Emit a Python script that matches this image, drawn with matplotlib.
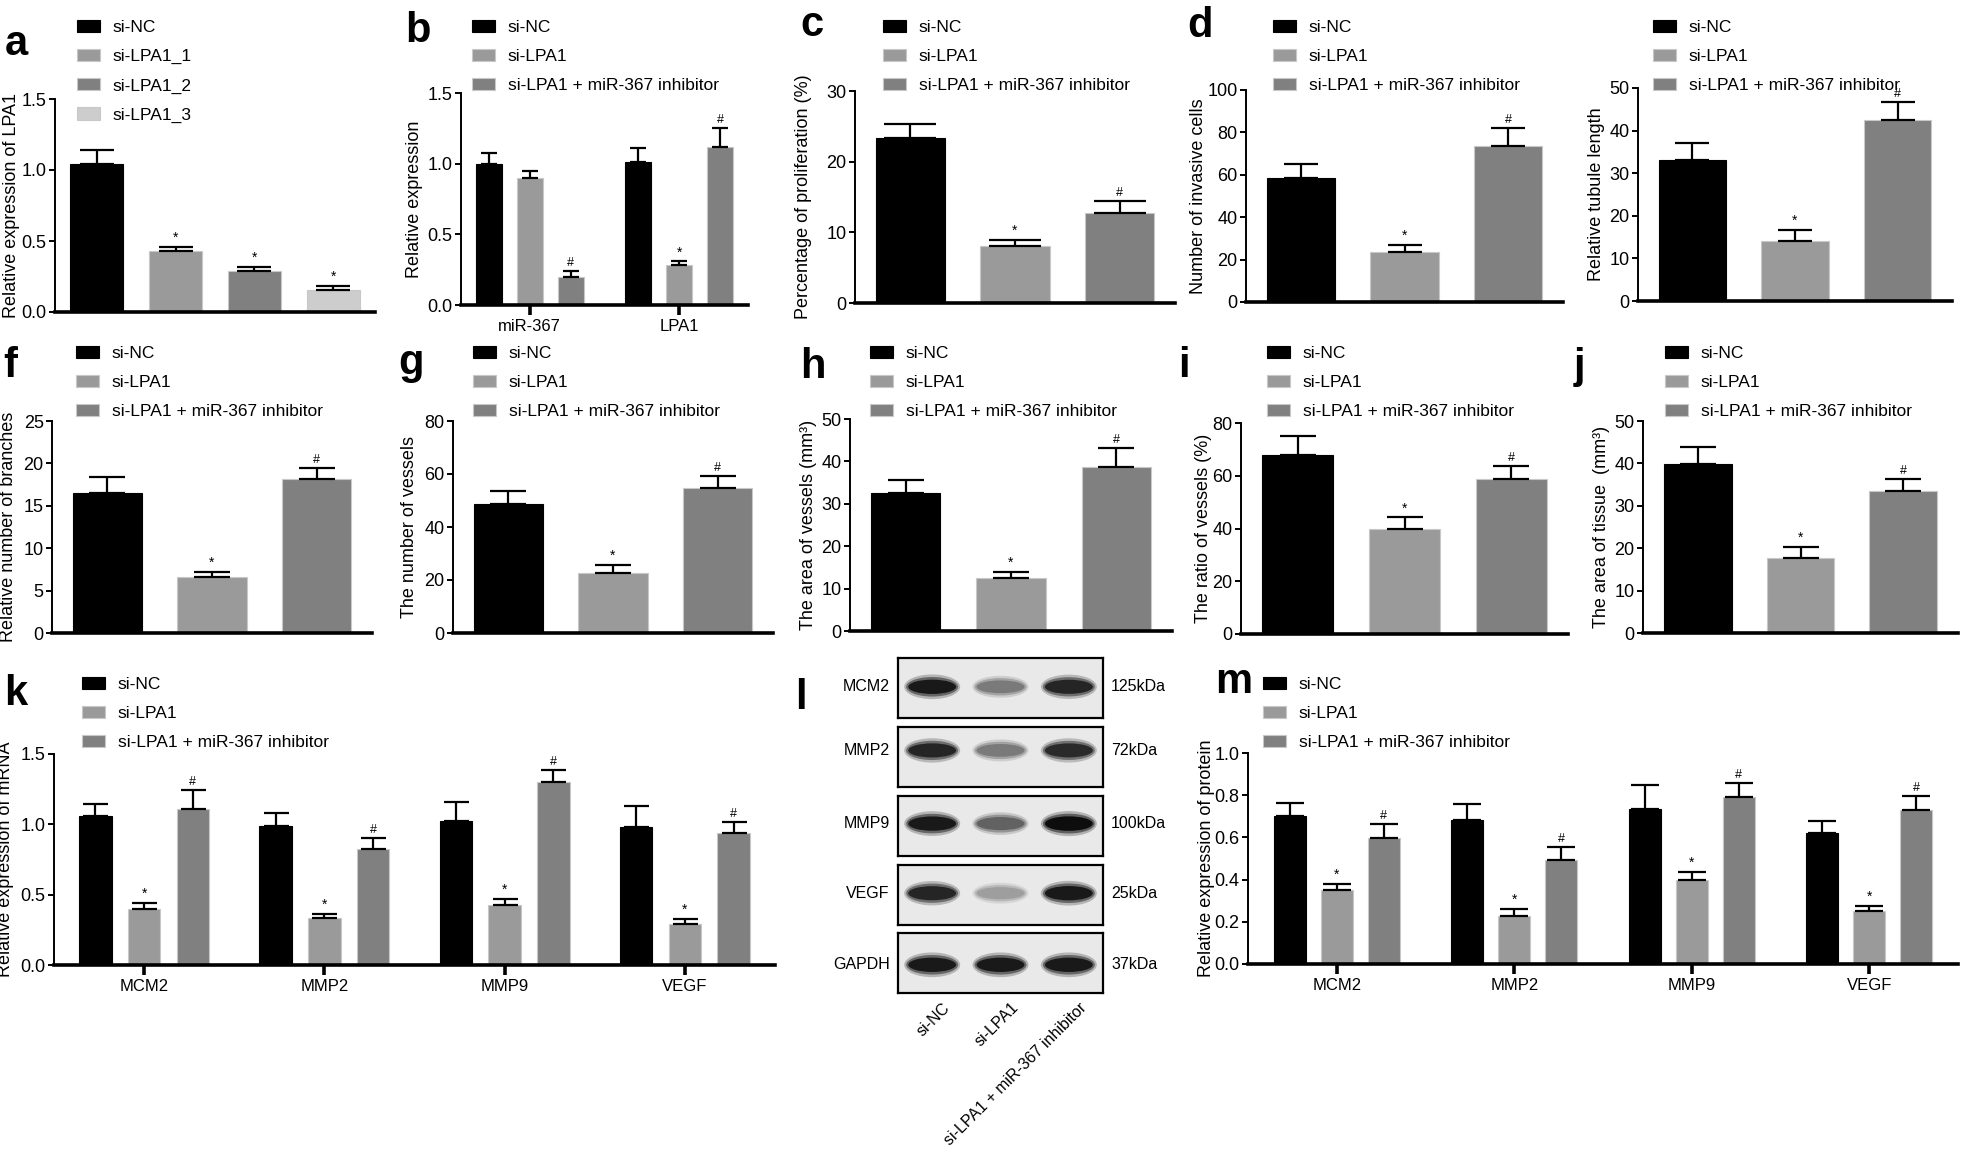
import numpy as np
import matplotlib
matplotlib.use("Agg")
import matplotlib.pyplot as plt
from matplotlib.patches import Ellipse
from matplotlib.ticker import FormatStrFormatter

plt.rcParams['font.family'] = ['Liberation Sans', 'DejaVu Sans']
plt.rcParams['font.size'] = 12.5

W, H = 1961, 1162

# ---------------- data ----------------
groups3 = ["si-NC", "si-LPA1", "si-LPA1 + miR-367 inhibitor"]
colors3 = ["#000000", "#9a9a9a", "#808080"]

# a
a_labels = ["si-NC", "si-LPA1_1", "si-LPA1_2", "si-LPA1_3"]
a_colors = ["#000000", "#9a9a9a", "#808080", "#cdcdcd"]
a_vals = [1.04, 0.43, 0.29, 0.155]
a_errs = [0.10, 0.03, 0.03, 0.028]
a_marks = ["", "*", "*", "*"]

# b
b_genes = ["miR-367", "LPA1"]
b_nc = [1.00, 1.01]
b_nc_err = [0.075, 0.10]
b_si = [0.90, 0.283]
b_si_err = [0.05, 0.025]
b_inh = [0.195, 1.12]
b_inh_err = [0.047, 0.13]
b_marks = [["", ""], ["", "*"], ["#", "#"]]

# c - j (si-NC, si-LPA1, si-LPA1 + inhibitor)
c_vals = [23.4, 8.1, 12.8]
c_errs = [2.0, 0.8, 1.6]
d_vals = [58.6, 23.8, 73.5]
d_errs = [6.6, 3.0, 8.4]
e_vals = [33.1, 14.0, 42.5]
e_errs = [3.9, 2.7, 4.3]
f_vals = [16.5, 6.6, 18.2]
f_errs = [1.9, 0.6, 1.3]
g_vals = [48.5, 22.8, 54.8]
g_errs = [5.0, 2.9, 4.6]
h_vals = [32.6, 12.5, 38.7]
h_errs = [3.0, 1.4, 4.4]
i_vals = [67.9, 39.9, 58.8]
i_errs = [7.3, 4.3, 5.0]
j_vals = [39.9, 17.8, 33.6]
j_errs = [4.0, 2.4, 2.8]
marks3 = ["", "*", "#"]

# k (mRNA) and m (protein)
genes4 = ["MCM2", "MMP2", "MMP9", "VEGF"]
k_nc = [1.057, 0.986, 1.021, 0.981]
k_nc_err = [0.09, 0.092, 0.135, 0.15]
k_si = [0.396, 0.332, 0.429, 0.289]
k_si_err = [0.045, 0.031, 0.04, 0.036]
k_inh = [1.109, 0.825, 1.299, 0.936]
k_inh_err = [0.135, 0.078, 0.09, 0.078]

m_nc = [0.701, 0.682, 0.736, 0.619]
m_nc_err = [0.064, 0.075, 0.111, 0.06]
m_si = [0.352, 0.227, 0.40, 0.251]
m_si_err = [0.029, 0.034, 0.038, 0.024]
m_inh = [0.597, 0.494, 0.793, 0.730]
m_inh_err = [0.065, 0.062, 0.063, 0.065]
marks4 = [["", "", "", ""], ["*", "*", "*", "*"], ["#", "#", "#", "#"]]

# l (western blot, relative band darkness per lane)
blot_proteins = ["MCM2", "MMP2", "MMP9", "VEGF", "GAPDH"]
blot_kda = ["125kDa", "72kDa", "100kDa", "25kDa", "37kDa"]
blot_intensity = [[0.95, 0.55, 0.9],
                  [0.9, 0.55, 0.88],
                  [0.95, 0.65, 1.0],
                  [0.9, 0.4, 0.95],
                  [0.95, 0.95, 0.95]]


fig = plt.figure(figsize=(W / 100, H / 100), dpi=100)


def add_axes(x0, y0, x1, y1):
    # pixel box, origin top-left
    return fig.add_axes([x0 / W, 1 - y1 / H, (x1 - x0) / W, (y1 - y0) / H])


def style_axes(ax, ymax, ystep, fmt, label, label_x, xticks=False):
    ax.set_ylim(0, ymax)
    ax.set_yticks(np.arange(0, ymax + ystep / 2, ystep))
    ax.yaxis.set_major_formatter(FormatStrFormatter(fmt))
    for s in ["top", "right"]:
        ax.spines[s].set_visible(False)
    ax.spines["left"].set_linewidth(1.4)
    ax.spines["bottom"].set_linewidth(2.6)
    ax.tick_params(axis="y", length=4, width=1.4, pad=2, labelsize=13)
    if xticks:
        ax.tick_params(axis="x", length=7, width=2.6, pad=3, labelsize=12)
    else:
        ax.set_xticks([])
    ax.set_ylabel(label, fontsize=13)
    pos = ax.get_position()
    ax.yaxis.set_label_coords((label_x / W - pos.x0) / pos.width, 0.5)


def edge(c):
    return "#000000" if c == "#000000" else "#c8c8c8"


def mark(ax, x, top, m):
    if m:
        ax.annotate(m, (x, top), xytext=(0, 1.5), textcoords="offset points",
                    ha="center", va="bottom", fontsize=10 if m == "*" else 9)


def bar_panel(ax, vals, errs, marks, colors, width, capsize):
    x = np.arange(len(vals))
    bars = ax.bar(x, vals, width, color=colors, edgecolor=[edge(c) for c in colors],
                  linewidth=0.8, zorder=2)
    ax.errorbar(x, vals, yerr=[np.zeros(len(vals)), errs], fmt="none", ecolor="black",
                elinewidth=1.6, capsize=capsize, capthick=1.6, zorder=3)
    for xi, v, e, m in zip(x, vals, errs, marks):
        mark(ax, xi, v + e, m)
    ax.set_xlim(-0.53, len(vals) - 0.47)
    return list(bars)


def grouped_panel(ax, series, errs, marks, offsets, width, capsize):
    x = np.arange(len(series[0]))
    handles = []
    for s, e, mk, c, off in zip(series, errs, marks, colors3, offsets):
        b = ax.bar(x + off, s, width, color=c, edgecolor=edge(c), linewidth=0.8, zorder=2)
        ax.errorbar(x + off, s, yerr=[np.zeros(len(s)), e], fmt="none", ecolor="black",
                    elinewidth=1.6, capsize=capsize, capthick=1.6, zorder=3)
        for xi, v, ee, m in zip(x + off, s, e, mk):
            mark(ax, xi, v + ee, m)
        handles.append(b)
    return handles


def add_legend(ax, handles, labels, x, y):
    ax.legend(handles, labels, loc="upper left", bbox_to_anchor=(x / W, 1 - y / H),
              bbox_transform=fig.transFigure, frameon=False, borderpad=0, borderaxespad=0,
              handlelength=1.3, handleheight=0.7, handletextpad=0.75, labelspacing=0.8,
              fontsize=12.5)


def letter(x, y, s):
    fig.text(x / W, 1 - y / H, s, fontsize=30, fontweight="bold", va="baseline", ha="left")


# ---------------- a ----------------
ax = add_axes(55, 99, 375, 312)
h = bar_panel(ax, a_vals, a_errs, a_marks, a_colors, 0.67, 12)
style_axes(ax, 1.5, 0.5, "%.1f", "Relative expression of LPA1", 20)
add_legend(ax, h, a_labels, 77, 20)
letter(5, 55, "a")

# ---------------- b ----------------
ax = add_axes(461, 93, 748, 305)
h = grouped_panel(ax, [b_nc, b_si, b_inh], [b_nc_err, b_si_err, b_inh_err], b_marks,
                  [-0.275, 0, 0.275], 0.175, 6)
ax.set_xlim(-0.46, 1.46)
ax.set_xticks(range(len(b_genes)), b_genes)
style_axes(ax, 1.5, 0.5, "%.1f", "Relative expression", 423, xticks=True)
add_legend(ax, h, groups3, 472, 20)
letter(405, 42, "b")

# ---------------- c - e ----------------
ax = add_axes(855, 91, 1175, 303)
h = bar_panel(ax, c_vals, c_errs, marks3, colors3, 0.66, 19)
style_axes(ax, 30, 10, "%d", "Percentage of proliferation (%)", 812)
add_legend(ax, h, groups3, 883, 20)
letter(800, 36, "c")

ax = add_axes(1246, 90, 1563, 302)
h = bar_panel(ax, d_vals, d_errs, marks3, colors3, 0.66, 12.5)
style_axes(ax, 100, 20, "%d", "Number of invasive cells", 1207)
add_legend(ax, h, groups3, 1273, 20)
letter(1187, 37, "d")

ax = add_axes(1638, 88, 1952, 301)
h = bar_panel(ax, e_vals, e_errs, marks3, colors3, 0.66, 12.5)
style_axes(ax, 50, 10, "%d", "Relative tubule length", 1605)
add_legend(ax, h, groups3, 1653, 20)

# ---------------- f - j ----------------
row2 = [
    (52, 421, 372, 633, f_vals, f_errs, 25, 5, "Relative number of branches", 17, 76, 3, 377, "f"),
    (453, 421, 773, 633, g_vals, g_errs, 80, 20, "The number of vessels", 418, 473, 398, 374, "g"),
    (850, 419, 1172, 631, h_vals, h_errs, 50, 10, "The area of vessels (mm³)", 817, 870, 800, 378, "h"),
    (1241, 423, 1568, 634, i_vals, i_errs, 80, 20, "The ratio of vessels (%)", 1212, 1267, 1178, 377, "i"),
    (1643, 421, 1958, 633, j_vals, j_errs, 50, 10, "The area of tissue  (mm³)", 1610, 1665, 1574, 378, "j"),
]
for x0, y0, x1, y1, vals, errs, ymax, step, lab, lx, legx, ltx, lty, let in row2:
    ax = add_axes(x0, y0, x1, y1)
    h = bar_panel(ax, vals, errs, marks3, colors3, 0.66, 13)
    style_axes(ax, ymax, step, "%d", lab, lx)
    add_legend(ax, h, groups3, legx, 346)
    letter(ltx, lty, let)

# ---------------- k ----------------
ax = add_axes(54, 754, 775, 965)
h = grouped_panel(ax, [k_nc, k_si, k_inh], [k_nc_err, k_si_err, k_inh_err], marks4,
                  [-0.27, 0, 0.27], 0.18, 9)
ax.set_xlim(-0.5, 3.5)
ax.set_xticks(range(len(genes4)), genes4)
style_axes(ax, 1.5, 0.5, "%.1f", "Relative expression of mRNA", 14, xticks=True)
add_legend(ax, h, groups3, 82, 677)
letter(4, 705, "k")

# ---------------- l (blot) ----------------
band_pos = [0.52, 0.61, 0.54, 0.53, 0.47]
box_tops = [658, 727, 796, 865, 933]
for r, (prot, kda, inten) in enumerate(zip(blot_proteins, blot_kda, blot_intensity)):
    bx = add_axes(898, box_tops[r], 1103, box_tops[r] + 60)
    bx.set_xlim(0, 3)
    bx.set_ylim(0, 1)
    bx.set_facecolor("#e9e9e9")
    bx.set_xticks([])
    bx.set_yticks([])
    for s in bx.spines.values():
        s.set_linewidth(1.6)
    for lane, v in enumerate(inten):
        g = 1 - 0.95 * v
        for w, hh, al in [(0.82, 0.38, 0.25), (0.76, 0.3, 0.5), (0.7, 0.22, 1.0)]:
            bx.add_patch(Ellipse((lane + 0.5, band_pos[r]), w, hh * (0.8 + 0.3 * v),
                                 color=(g, g, g), alpha=al, lw=0))
    bx.text(-0.04, band_pos[r], prot, transform=bx.transAxes, ha="right", va="center",
            fontsize=11.5)
    bx.text(1.04, band_pos[r], kda, transform=bx.transAxes, ha="left", va="center",
            fontsize=11.5)
    if r == len(blot_proteins) - 1:
        for lane, name in enumerate(groups3):
            bx.text(lane + 0.65, -0.12, name, rotation=45, rotation_mode="anchor",
                    ha="right", va="top", fontsize=11.5)
letter(795, 709, "l")

# ---------------- m ----------------
ax = add_axes(1248, 753, 1958, 964)
h = grouped_panel(ax, [m_nc, m_si, m_inh], [m_nc_err, m_si_err, m_inh_err], marks4,
                  [-0.265, 0, 0.265], 0.18, 10)
ax.set_xlim(-0.5, 3.5)
ax.set_xticks(range(len(genes4)), genes4)
style_axes(ax, 1.0, 0.2, "%.1f", "Relative expression of protein", 1215, xticks=True)
add_legend(ax, h, groups3, 1263, 677)
letter(1215, 693, "m")

fig.savefig("out.png", dpi=100)
